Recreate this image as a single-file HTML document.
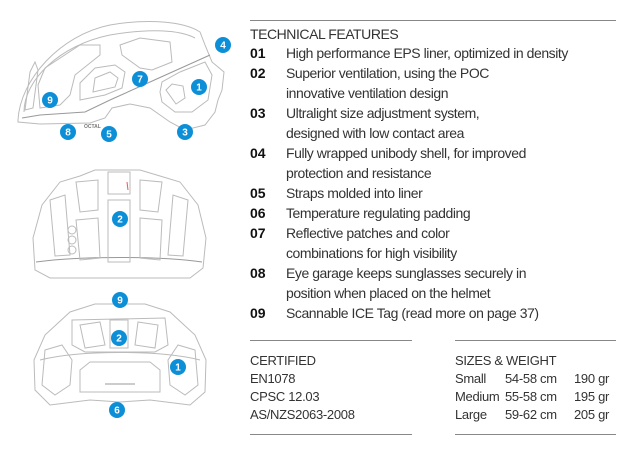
<!DOCTYPE html>
<html><head><meta charset="utf-8"><style>
body{margin:0;width:640px;height:460px;background:#fff;position:relative;overflow:hidden;font-family:"Liberation Sans",sans-serif;color:#333}
.t{position:absolute;font-size:14px;line-height:20px;letter-spacing:-0.45px;white-space:nowrap}
.n{position:absolute;left:250px;font-size:14px;line-height:20px;font-weight:bold;color:#111}
.s{position:absolute;font-size:13px;line-height:18px;letter-spacing:-0.3px;white-space:nowrap;color:#333}
.hr{position:absolute;height:1px;background:#888}
</style></head><body>
<div class="hr" style="left:250px;top:20px;width:366px"></div>
<div class="t" style="left:250px;top:24px">TECHNICAL FEATURES</div>
<div class="n" style="top:43px">01</div><div class="t" style="left:286px;top:43px">High performance EPS liner, optimized in density</div>
<div class="n" style="top:63px">02</div><div class="t" style="left:286px;top:63px">Superior ventilation, using the POC</div>
<div class="t" style="left:286px;top:83px">innovative ventilation design</div>
<div class="n" style="top:103px">03</div><div class="t" style="left:286px;top:103px">Ultralight size adjustment system,</div>
<div class="t" style="left:286px;top:123px">designed with low contact area</div>
<div class="n" style="top:143px">04</div><div class="t" style="left:286px;top:143px">Fully wrapped unibody shell, for improved</div>
<div class="t" style="left:286px;top:163px">protection and resistance</div>
<div class="n" style="top:183px">05</div><div class="t" style="left:286px;top:183px">Straps molded into liner</div>
<div class="n" style="top:203px">06</div><div class="t" style="left:286px;top:203px">Temperature regulating padding</div>
<div class="n" style="top:223px">07</div><div class="t" style="left:286px;top:223px">Reflective patches and color</div>
<div class="t" style="left:286px;top:243px">combinations for high visibility</div>
<div class="n" style="top:263px">08</div><div class="t" style="left:286px;top:263px">Eye garage keeps sunglasses securely in</div>
<div class="t" style="left:286px;top:283px">position when placed on the helmet</div>
<div class="n" style="top:303px">09</div><div class="t" style="left:286px;top:303px">Scannable ICE Tag (read more on page 37)</div>

<div class="hr" style="left:250px;top:340px;width:162px"></div>
<div class="hr" style="left:455px;top:340px;width:161px"></div>
<div class="hr" style="left:250px;top:434px;width:162px"></div>
<div class="hr" style="left:455px;top:434px;width:161px"></div>
<div class="s" style="left:250px;top:352px">CERTIFIED</div>
<div class="s" style="left:250px;top:370px">EN1078</div>
<div class="s" style="left:250px;top:388px">CPSC 12.03</div>
<div class="s" style="left:250px;top:406px">AS/NZS2063-2008</div>
<div class="s" style="left:455px;top:352px">SIZES &amp; WEIGHT</div>
<div class="s" style="left:455px;top:370px">Small</div><div class="s" style="left:505px;top:370px">54-58 cm</div><div class="s" style="left:574px;top:370px">190 gr</div>
<div class="s" style="left:455px;top:388px">Medium</div><div class="s" style="left:505px;top:388px">55-58 cm</div><div class="s" style="left:574px;top:388px">195 gr</div>
<div class="s" style="left:455px;top:406px">Large</div><div class="s" style="left:505px;top:406px">59-62 cm</div><div class="s" style="left:574px;top:406px">205 gr</div>

<svg style="position:absolute;left:0;top:0" width="240" height="460" viewBox="0 0 240 460">
<g fill="none" stroke="#bbb" stroke-width="1">
<path d="M18 120 C20 80 60 35 110 25 C150 18 185 22 200 32 L205 45 L212 62 L224 72 L222 90 L218 100 L215 112 L205 125 L185 130 L170 122 L150 108 L130 104 L112 108 L105 118 L90 123 L40 124 L18 122 Z"/>
<path d="M22 118 L40 115 L85 112 L110 100 L150 82 L210 55" stroke="#999"/>
<path d="M24 112 C24 80 60 45 110 35 C150 28 180 30 195 38"/>
<path d="M40 108 L38 85 L45 68 L80 45 L100 45 L100 55 L75 75 L70 95 L60 105 Z"/>
<path d="M80 100 L80 83 L95 68 L115 65 L125 72 L122 88 L105 95 Z"/>
<path d="M93 92 L95 78 L110 72 L118 78 L115 87 Z"/>
<path d="M120 45 L140 38 L170 42 L172 62 L152 70 L140 68 L122 55 Z"/>
<path d="M160 92 L162 82 L180 72 L205 62 L212 75 L208 100 L192 112 L175 112 L162 102 Z"/>
<path d="M166 90 L172 84 L183 86 L185 98 L176 104 Z"/>
<path d="M30 72 L35 62 L38 70 L33 108 L25 110 Z"/>
</g>
<text x="84" y="128" font-size="5" fill="#777" font-family="Liberation Sans" font-weight="bold">OCTAL</text>
<g fill="none" stroke="#bbb" stroke-width="1">
<path d="M35 270 L33 238 L42 205 L60 182 L80 176 L95 170 L140 170 L160 176 L180 182 L198 205 L206 238 L203 268 L190 278 L50 278 Z"/>
<path d="M36 262 C80 256 160 256 202 262" stroke="#999"/>
<path d="M108 172 L130 172 L130 194 L108 194 Z"/>
<path d="M108 200 L130 200 L130 262 L108 262 Z"/>
<path d="M76 220 L98 218 L100 258 L80 260 Z"/>
<path d="M140 218 L162 220 L160 260 L140 258 Z"/>
<path d="M50 200 L65 195 L70 255 L55 256 Z"/>
<path d="M188 200 L173 195 L168 255 L183 256 Z"/>
<path d="M76 182 L98 180 L98 210 L80 212 Z"/>
<path d="M140 180 L162 182 L158 212 L140 210 Z"/>
<circle cx="72" cy="230" r="4"/><circle cx="72" cy="240" r="4"/><circle cx="72" cy="250" r="4"/>
<path d="M127 182 L128 190" stroke="#e55"/>
<path d="M35 390 L34 360 L45 335 L70 312 L95 304 L145 304 L170 312 L195 335 L206 360 L205 392 L190 405 L150 400 L120 402 L90 400 L50 405 Z"/>
<path d="M72 320 L165 318 L168 345 L155 352 L85 352 L72 345 Z"/>
<path d="M80 325 L100 322 L105 345 L85 348 Z"/>
<path d="M110 320 L128 320 L128 348 L110 348 Z"/>
<path d="M138 322 L158 325 L155 348 L135 345 Z"/>
<path d="M45 350 L62 345 L72 360 L70 385 L55 395 L42 385 Z"/>
<path d="M195 350 L178 345 L168 360 L170 385 L185 395 L198 385 Z"/>
<path d="M80 370 L90 362 L150 362 L160 370 L160 392 L80 392 Z"/>
<path d="M40 360 C80 350 160 350 200 360"/>
<line x1="105" y1="384" x2="135" y2="384" stroke="#999"/>
</g>
<g font-family="Liberation Sans" font-weight="bold" font-size="10" fill="#fff" text-anchor="middle">
<g fill="#0d8fd8" stroke="none">
<circle cx="223" cy="45" r="8"/><circle cx="140" cy="79" r="8"/><circle cx="199" cy="87" r="8"/><circle cx="50" cy="100" r="8"/><circle cx="68" cy="132" r="8"/><circle cx="109" cy="134" r="8"/><circle cx="185" cy="132" r="8"/>
<circle cx="120" cy="219" r="8"/><circle cx="120" cy="300" r="8"/><circle cx="119" cy="338" r="8"/><circle cx="178" cy="367" r="8"/><circle cx="117" cy="410" r="8"/>
</g>
<text x="223" y="48.5">4</text><text x="140" y="82.5">7</text><text x="199" y="90.5">1</text><text x="50" y="103.5">9</text><text x="68" y="135.5">8</text><text x="109" y="137.5">5</text><text x="185" y="135.5">3</text>
<text x="120" y="222.5">2</text><text x="120" y="303.5">9</text><text x="119" y="341.5">2</text><text x="178" y="370.5">1</text><text x="117" y="413.5">6</text>
</g>
</svg>
</body></html>
